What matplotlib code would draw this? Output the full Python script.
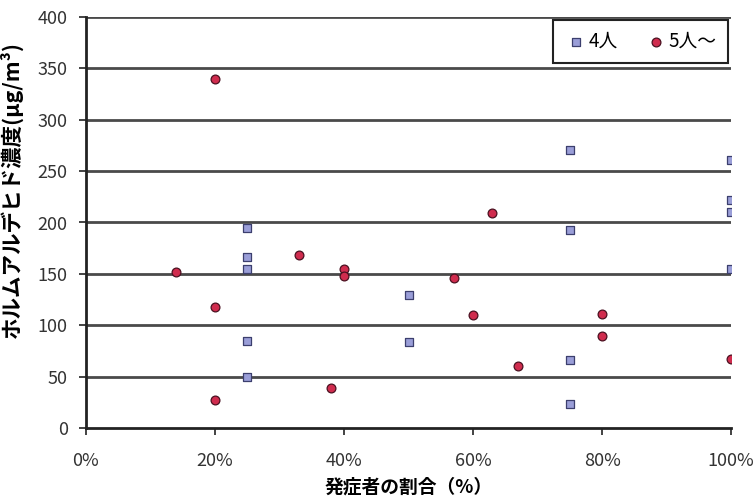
import matplotlib.pyplot as plt
from matplotlib.ticker import FuncFormatter

plt.rcParams['font.family'] = ['Noto Sans CJK JP', 'DejaVu Sans']

# 4人 (squares)
x4 = [25, 25, 25, 25, 25, 50, 50, 75, 75, 75, 75, 100, 100, 100, 100]
y4 = [195, 166, 155, 85, 50, 129, 84, 271, 193, 66, 23, 261, 222, 210, 155]

# 5人～ (circles)
x5 = [14, 20, 20, 20, 33, 38, 40, 40, 57, 60, 63, 67, 80, 80, 100]
y5 = [152, 340, 118, 27, 168, 39, 155, 148, 146, 110, 209, 60, 111, 90, 67]

fig = plt.figure(figsize=(7.53, 5), dpi=100)
ax = fig.add_axes([0.114, 0.144, 0.857, 0.822])

for yy in range(50, 401, 50):
    ax.axhline(yy, color='#4a4a4a', lw=2, zorder=1)

ax.scatter(x4, y4, marker='s', s=40, facecolor='#9a9ed8', edgecolor='#3c3f6e',
           linewidth=0.9, zorder=3, label='4人')
ax.scatter(x5, y5, marker='o', s=40, facecolor='#d02c4e', edgecolor='#4a1020',
           linewidth=0.9, zorder=3, label='5人～')

ax.set_xlim(0, 100)
ax.set_ylim(0, 400)
ax.set_xticks([0, 20, 40, 60, 80, 100])
ax.xaxis.set_major_formatter(FuncFormatter(lambda v, p: f'{int(v)}%'))
ax.set_yticks(range(0, 401, 50))

for s in ['top', 'right']:
    ax.spines[s].set_visible(False)
for s in ['left', 'bottom']:
    ax.spines[s].set_linewidth(2)
    ax.spines[s].set_color('#222222')
ax.tick_params(axis='both', labelsize=13, color='#222222', width=1.2, length=5,
               labelcolor='#333333')
ax.tick_params(axis='x', pad=12)
ax.tick_params(axis='y', pad=8)

ax.set_xlabel('発症者の割合（%）', fontsize=13.5, fontweight='bold', labelpad=6)
ax.set_ylabel('ホルムアルデヒド濃度(μg/m³)', fontsize=15.5, fontweight='bold', labelpad=6)
ax.yaxis.set_label_coords(-0.098, 0.58)

leg = ax.legend(loc='upper right', bbox_to_anchor=(0.995, 0.993), ncol=2, fontsize=13.5,
                fancybox=False, edgecolor='#222222', framealpha=1,
                handletextpad=0.1, columnspacing=1.4, borderpad=0.6,
                borderaxespad=0, handlelength=1.2, markerscale=1.0)
leg.get_frame().set_linewidth(1.5)

fig.savefig('out.png', dpi=100)
